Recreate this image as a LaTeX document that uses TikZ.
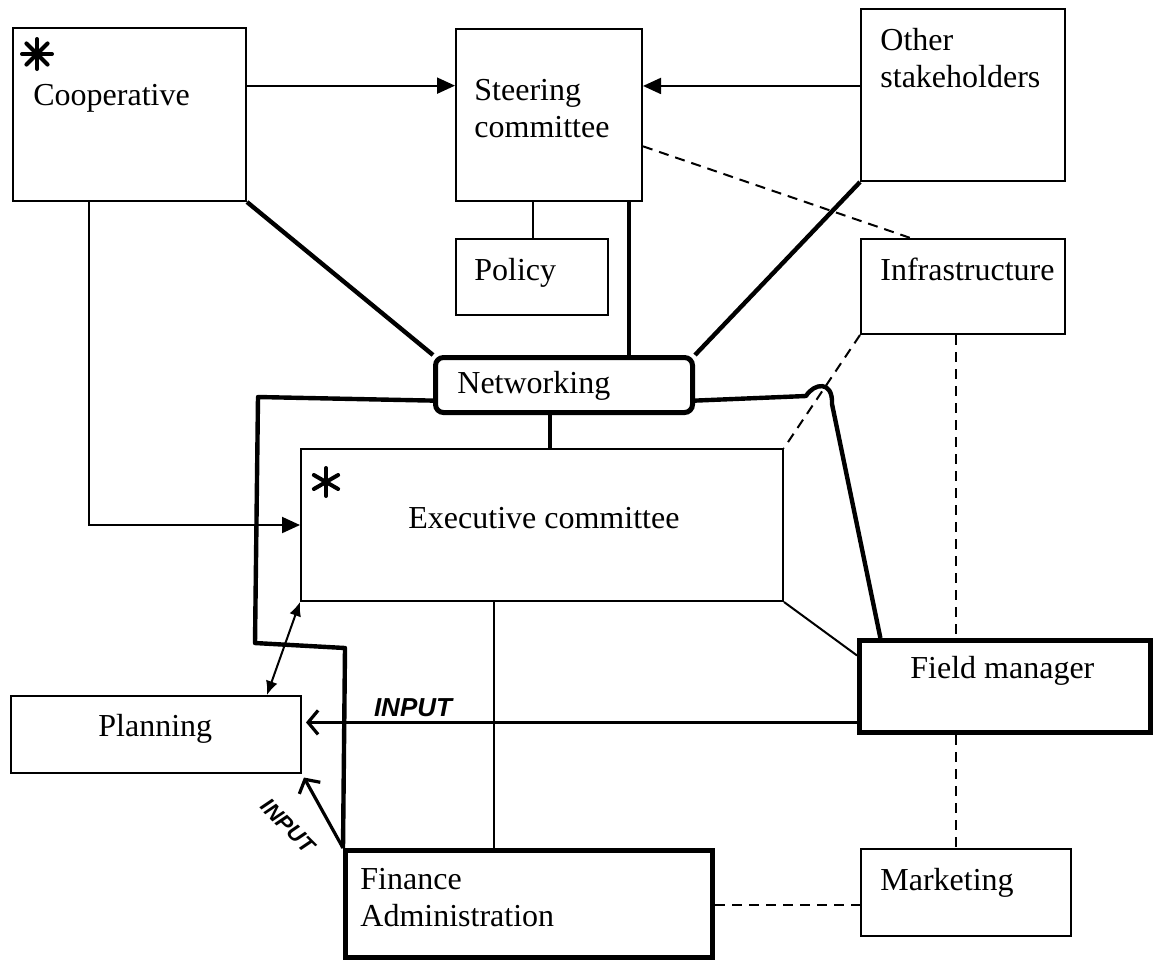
\documentclass[tikz,border=0pt]{standalone}
\usepackage{fontspec}
\setmainfont{Liberation Serif}
\newfontfamily\handfont{Liberation Sans}
\usetikzlibrary{arrows.meta,calc}

\begin{document}
\begin{tikzpicture}[x=0.5pt,y=-0.5pt,
    box/.style={draw,line width=1pt,anchor=north west,inner sep=0pt},
    heavybox/.style={box,line width=2.5pt},
    txt/.style={anchor=base west,inner sep=0pt,align=left,font=\fontsize{16}{18.5}\selectfont},
    link/.style={line width=1pt},
    heavy/.style={line width=2.2pt,line join=round},
    dashlink/.style={line width=1pt,dash pattern=on 5pt off 3.5pt},
    arr/.style={link,-{Triangle[length=9pt,width=8pt]}},
    dbl/.style={link,{Latex[length=7pt,width=6pt]}-{Latex[length=7pt,width=6pt]}},
    inarrow/.style={line width=1.6pt,-{Straight Barb[length=5pt,width=12pt,line width=1.6pt]}},
    inlabel/.style={font=\handfont\bfseries\itshape\fontsize{13}{13}\selectfont,inner sep=2pt},
    star/.style={line width=2pt,line cap=round}]
    \useasboundingbox (0,0) rectangle (1155,966);

    \node[box,minimum width=116.5pt,minimum height=86.5pt] (coop) at (12,27) {};
    \node[box,minimum width=93pt,minimum height=86pt] (steer) at (455,28) {};
    \node[box,minimum width=102pt,minimum height=86pt] (other) at (860,8) {};
    \node[box,minimum width=76pt,minimum height=38pt] (policy) at (455,238) {};
    \node[box,minimum width=102pt,minimum height=47.5pt] (infra) at (860,238) {};
    \node[heavybox,rounded corners=4pt,minimum width=128.5pt,minimum height=27.5pt] (netw) at (433,355) {};
    \node[box,minimum width=241pt,minimum height=76pt] (exec) at (300,448) {};
    \node[box,minimum width=145pt,minimum height=38.5pt] (plan) at (10,695) {};
    \node[heavybox,minimum width=145.5pt,minimum height=46pt] (field) at (857,638) {};
    \node[heavybox,minimum width=183.5pt,minimum height=53.5pt] (fin) at (343,848) {};
    \node[box,minimum width=105pt,minimum height=43.5pt] (mark) at (860,848) {};

    \node[txt] (coopt) at (33,105) {Cooperative};
    \node[txt] (steert) at (474,137) {Steering\\committee};
    \node[txt] (othert) at (880,87) {Other\\stakeholders};
    \node[txt] (policyt) at (474,280) {Policy};
    \node[txt] (infrat) at (880,280) {Infrastructure};
    \node[txt] (netwt) at (457,393) {Networking};
    \node[txt] (exect) at (408,528) {Executive committee};
    \node[txt] (plant) at (98,736) {Planning};
    \node[txt] (fieldt) at (910,678) {Field manager};
    \node[txt] (fint) at (360,926) {Finance\\Administration};
    \node[txt] (markt) at (880,890) {Marketing};

    \foreach \a in {0,45,90,135}
        \draw[star] ($(37,54)+(\a:15)$) -- ($(37,54)+(\a+180:15)$);
    \foreach \a in {30,90,150}
        \draw[star] ($(326,482)+(\a:14)$) -- ($(326,482)+(\a+180:14)$);

    \coordinate (c1) at ($(coop.north east)!.335!(coop.south east)$);
    \coordinate (c2) at ($(other.north west)!.448!(other.south west)$);
    \draw[arr] (c1) -- (c1 -| steer.west);
    \draw[arr] (c2) -- (c2 -| steer.east);
    \draw[link] (policy.north -| 533,0) -- (steer.south -| 533,0);
    \draw[dashlink] ($(steer.north east)!.68!(steer.south east)$) -- ($(infra.north west)!.245!(infra.north east)$);

    \coordinate (s1) at ($(steer.south west)!.925!(steer.south east)$);
    \draw[heavy] (coop.south east) -- (netw.north west);
    \draw[heavy] (s1) -- (s1 |- netw.north);
    \draw[heavy] (other.south west) -- (netw.north east);
    \coordinate (n1) at ($(netw.south west)!.447!(netw.south east)$);
    \draw[heavy] (n1) -- (n1 |- exec.north);

    \coordinate (nl) at ($(netw.north west)!.76!(netw.south west)$);
    \coordinate (nr) at ($(netw.north east)!.76!(netw.south east)$);
    \draw[heavy] (nl) -- (258,397) -- (255,643) -- (345,648) -- (fin.north west);
    \draw[heavy] (nr) -- (806,396) .. controls (814,383) and (833,380) .. (832,404)
        -- ($(field.north west)!.079!(field.north east)$);

    \coordinate (dv) at (956,0);
    \draw[dashlink] (infra.south west) -- (exec.north east);
    \draw[dashlink] (infra.south -| dv) -- (field.north -| dv);
    \draw[dashlink] (field.south -| dv) -- (mark.north -| dv);
    \draw[dashlink] (fin.east |- 0,905) -- (mark.west |- 0,905);

    \coordinate (c3) at ($(coop.south west)!.326!(coop.south east)$);
    \draw[arr] (c3) |- (exec.west);
    \draw[link] (exec.south east) -- ($(field.north west)!.18!(field.south west)$);
    \coordinate (e1) at ($(exec.south west)!.4!(exec.south east)$);
    \draw[link] (e1) -- (e1 |- fin.north);
    \draw[dbl] (exec.south west) -- ($(plan.north west)!.88!(plan.north east)$);

    \coordinate (f1) at ($(field.north west)!.87!(field.south west)$);
    \draw[inarrow,shorten >=2pt] (f1) -- (f1 -| plan.east) node[inlabel,pos=.8,above] (in1) {INPUT};
    \draw[inarrow,shorten >=2pt] (fin.north west) -- (plan.south east);
    \node[inlabel,rotate=-45,font=\handfont\bfseries\itshape\fontsize{11}{11}\selectfont] (in2) at (288,826) {INPUT};
\end{tikzpicture}
\end{document}
